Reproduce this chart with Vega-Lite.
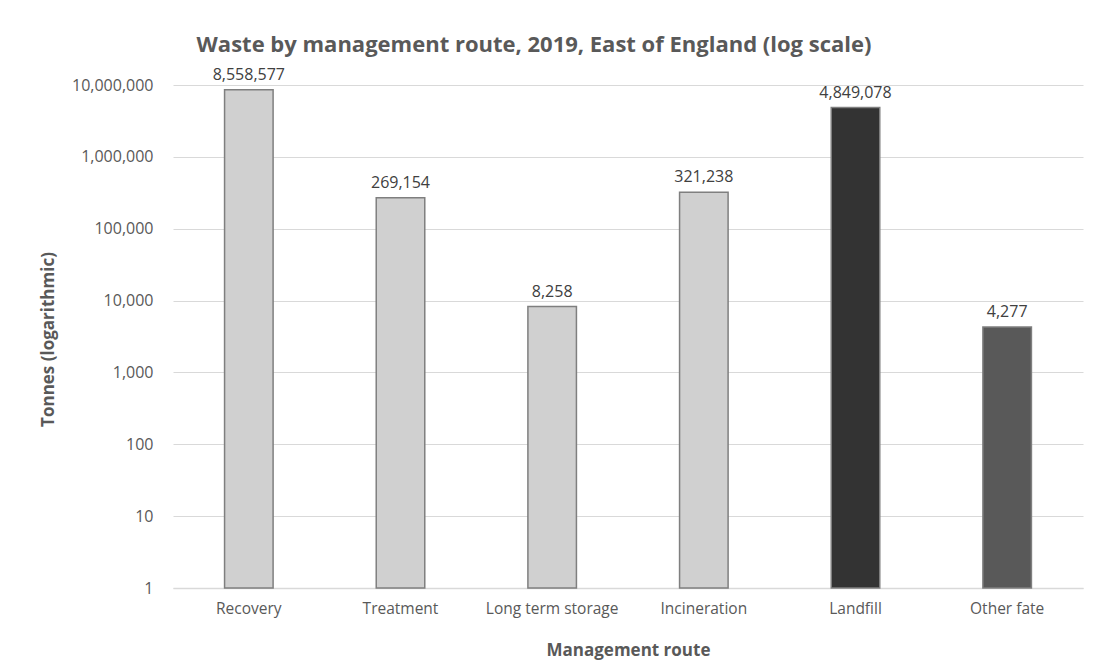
{
  "$schema": "https://vega.github.io/schema/vega-lite/v6.json",
  "width": 910,
  "height": 503,
  "autosize": "none",
  "padding": {"left": 173, "top": 85, "right": 10, "bottom": 84},
  "background": "white",
  "title": {
    "text": "Waste by management route, 2019, East of England (log scale)",
    "font": "Open Sans",
    "fontSize": 22,
    "fontWeight": "bold",
    "color": "#595959",
    "anchor": "middle",
    "frame": "group",
    "dx": -94,
    "offset": 10
  },
  "data": {
    "values": [
      {"route": "Recovery", "tonnes": 8558577, "group": "a"},
      {"route": "Treatment", "tonnes": 269154, "group": "a"},
      {"route": "Long term storage", "tonnes": 8258, "group": "a"},
      {"route": "Incineration", "tonnes": 321238, "group": "a"},
      {"route": "Landfill", "tonnes": 4849078, "group": "b"},
      {"route": "Other fate", "tonnes": 4277, "group": "c"}
    ]
  },
  "encoding": {
    "x": {
      "field": "route",
      "type": "nominal",
      "sort": null,
      "scale": {"paddingInner": 0.68, "paddingOuter": 0.34},
      "axis": {
        "title": "Management route",
        "labelAngle": 0,
        "labelFont": "Open Sans",
        "labelFontSize": 15.5,
        "labelColor": "#595959",
        "labelPadding": 13,
        "ticks": false,
        "domainColor": "#d9d9d9",
        "domainWidth": 1.5,
        "titleFont": "Open Sans",
        "titleFontSize": 17,
        "titleFontWeight": "bold",
        "titleColor": "#595959",
        "titlePadding": 26
      }
    },
    "y": {
      "field": "tonnes",
      "type": "quantitative",
      "scale": {"type": "log", "domain": [1, 10000000], "nice": false},
      "axis": {
        "title": "Tonnes (logarithmic)",
        "values": [1, 10, 100, 1000, 10000, 100000, 1000000, 10000000],
        "format": ",",
        "labelFont": "Open Sans",
        "labelFontSize": 16,
        "labelColor": "#595959",
        "labelPadding": 20,
        "ticks": false,
        "domain": false,
        "gridColor": "#d9d9d9",
        "gridWidth": 1.2,
        "titleFont": "Open Sans",
        "titleFontSize": 17,
        "titleFontWeight": "bold",
        "titleColor": "#595959",
        "titleX": -116,
        "titleY": 254
      }
    }
  },
  "layer": [
    {
      "mark": {"type": "bar", "stroke": "#7f7f7f", "strokeWidth": 1.5},
      "encoding": {
        "y2": {"datum": 1},
        "color": {
          "field": "group",
          "type": "nominal",
          "scale": {"domain": ["a", "b", "c"], "range": ["#d0d0d0", "#333333", "#595959"]},
          "legend": null
        }
      }
    },
    {
      "mark": {"type": "text", "baseline": "bottom", "dy": -7, "font": "Open Sans", "fontSize": 16, "color": "#404040"},
      "encoding": {
        "text": {"field": "tonnes", "type": "quantitative", "format": ","}
      }
    }
  ],
  "config": {"view": {"stroke": null}}
}
